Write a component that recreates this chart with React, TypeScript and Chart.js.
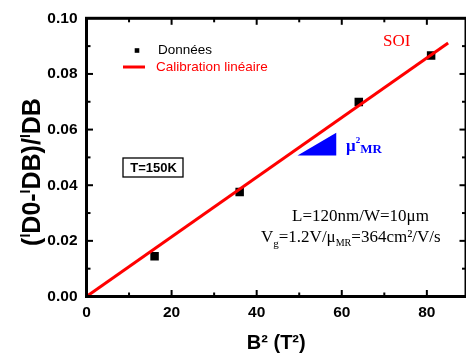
import React, { useEffect, useRef } from "react";
import { Chart, registerables } from "chart.js";

Chart.register(...registerables);

// ---- data ----
const B2 = [16, 36, 64, 81];
const RATIO = [0.0145, 0.0376, 0.0699, 0.0866];
const FIT_X = [0, 85];
const FIT_Y = [0, 0.0911];
const X_TICKS = [0, 20, 40, 60, 80];
const Y_TICKS = [0, 0.02, 0.04, 0.06, 0.08, 0.1];
const X_MIN = 0;
const X_MAX = 89.2;
const Y_MIN = 0;
const Y_MAX = 0.1;
// slope triangle (data coordinates)
const TRI_X = [49.6, 58.7, 58.7];
const TRI_Y = [0.0507, 0.0507, 0.0589];

const SANS = "'Liberation Sans', Arial, sans-serif";
const SERIF = "'Liberation Serif', 'Times New Roman', serif";

type Part = { t: string; font: string; dy?: number; color?: string };

function drawRich(ctx: CanvasRenderingContext2D, x: number, y: number, parts: Part[], align: "left" | "center" = "left") {
  ctx.textBaseline = "alphabetic";
  ctx.textAlign = "left";
  let total = 0;
  for (const p of parts) {
    ctx.font = p.font;
    total += ctx.measureText(p.t).width;
  }
  let cx = align === "center" ? x - total / 2 : x;
  for (const p of parts) {
    ctx.font = p.font;
    if (p.color) ctx.fillStyle = p.color;
    ctx.fillText(p.t, cx, y + (p.dy || 0));
    cx += ctx.measureText(p.t).width;
  }
}

const decorPlugin = {
  id: "decor",
  afterDraw(chart: any) {
    const { ctx, chartArea: a, scales } = chart;
    const xs = scales.x;
    const ys = scales.y;
    ctx.save();

    // triangle
    ctx.fillStyle = "#0000ff";
    ctx.beginPath();
    TRI_X.forEach((vx, i) => {
      const px = xs.getPixelForValue(vx);
      const py = ys.getPixelForValue(TRI_Y[i]);
      if (i === 0) ctx.moveTo(px, py);
      else ctx.lineTo(px, py);
    });
    ctx.closePath();
    ctx.fill();

    // frame
    ctx.strokeStyle = "#000";
    ctx.lineWidth = 3;
    ctx.strokeRect(a.left, a.top, a.right - a.left, a.bottom - a.top);

    // ticks (inside)
    ctx.lineWidth = 2;
    const line = (x1: number, y1: number, x2: number, y2: number) => {
      ctx.beginPath();
      ctx.moveTo(x1, y1);
      ctx.lineTo(x2, y2);
      ctx.stroke();
    };
    for (let v = 10; v < X_MAX; v += 10) {
      const px = xs.getPixelForValue(v);
      const len = X_TICKS.includes(v) ? 6.5 : 4;
      line(px, a.bottom, px, a.bottom - len);
      line(px, a.top, px, a.top + len);
    }
    for (let k = 1; k < 10; k++) {
      const v = k * 0.01;
      const py = ys.getPixelForValue(v);
      const len = k % 2 === 0 ? 6.5 : 4;
      line(a.left, py, a.left + len, py);
      line(a.right, py, a.right - len, py);
    }

    // y axis title
    ctx.save();
    ctx.translate(40, 172);
    ctx.rotate(-Math.PI / 2);
    ctx.fillStyle = "#000";
    const big = `bold 25px ${SANS}`;
    const small = `bold 14px ${SANS}`;
    drawRich(
      ctx,
      0,
      0,
      [
        { t: "(", font: big },
        { t: "I", font: small, dy: -10 },
        { t: "D0", font: big },
        { t: "-", font: big },
        { t: "I", font: small, dy: -10 },
        { t: "DB", font: big },
        { t: ")/", font: big },
        { t: "I", font: small, dy: -10 },
        { t: "DB", font: big },
      ],
      "center"
    );
    ctx.restore();

    // legend
    ctx.fillStyle = "#000";
    ctx.fillRect(134.7, 48.2, 4.6, 4.6);
    ctx.font = `13.5px ${SANS}`;
    ctx.textBaseline = "middle";
    ctx.textAlign = "left";
    ctx.fillText("Données", 158, 50);
    ctx.strokeStyle = "#ff0000";
    ctx.lineWidth = 3;
    line(123, 67, 145, 67);
    ctx.fillStyle = "#ff0000";
    ctx.fillText("Calibration linéaire", 156, 67);

    // T=150K box
    ctx.strokeStyle = "#000";
    ctx.lineWidth = 1.3;
    ctx.strokeRect(123, 158, 60, 19);
    ctx.fillStyle = "#000";
    ctx.font = `bold 13px ${SANS}`;
    ctx.textAlign = "center";
    ctx.fillText("T=150K", 153.5, 168);

    // SOI
    ctx.fillStyle = "#ff0000";
    ctx.font = `17px ${SERIF}`;
    ctx.textAlign = "left";
    ctx.textBaseline = "alphabetic";
    ctx.fillText("SOI", 383, 46);

    // mu^2 MR
    drawRich(ctx, 346, 151, [
      { t: "μ", font: `bold 17px ${SERIF}`, color: "#0000ff" },
      { t: "2", font: `bold 9px ${SERIF}`, dy: -8 },
      { t: "MR", font: `bold 13px ${SERIF}`, dy: 2 },
    ]);

    // parameters text
    ctx.fillStyle = "#000";
    drawRich(ctx, 292, 221, [{ t: "L=120nm/W=10μm", font: `17px ${SERIF}` }]);
    drawRich(ctx, 261, 242, [
      { t: "V", font: `17px ${SERIF}` },
      { t: "g", font: `11px ${SERIF}`, dy: 5 },
      { t: "=1.2V/μ", font: `17px ${SERIF}` },
      { t: "MR", font: `10px ${SERIF}`, dy: 4 },
      { t: "=364cm²/V/s", font: `17px ${SERIF}` },
    ]);

    ctx.restore();
  },
};

export default function App() {
  const ref = useRef<HTMLCanvasElement | null>(null);

  useEffect(() => {
    if (!ref.current) return;
    const chart = new Chart(ref.current, {
      type: "scatter",
      data: {
        datasets: [
          {
            label: "Calibration linéaire",
            data: FIT_X.map((x, i) => ({ x, y: FIT_Y[i] })),
            showLine: true,
            borderColor: "#ff0000",
            borderWidth: 3,
            pointRadius: 0,
            fill: false,
          },
          {
            label: "Données",
            data: B2.map((x, i) => ({ x, y: RATIO[i] })),
            pointStyle: "rect",
            pointRadius: 6,
            backgroundColor: "#000",
            borderColor: "#000",
            borderWidth: 0,
            showLine: false,
          },
        ],
      },
      options: {
        animation: false,
        responsive: false,
        layout: { padding: { top: 14.3, right: 4, left: 0, bottom: 0 } },
        plugins: { legend: { display: false }, tooltip: { enabled: false } },
        scales: {
          x: {
            type: "linear",
            min: X_MIN,
            max: X_MAX,
            afterFit: (s: any) => {
              s.height = 64.5;
            },
            afterBuildTicks: (s: any) => {
              s.ticks = X_TICKS.map((v) => ({ value: v }));
            },
            grid: { display: false, drawTicks: false },
            border: { display: false },
            ticks: {
              padding: 7,
              color: "#000",
              font: { family: SANS, weight: "bold", size: 15.5 },
              callback: (v: any) => String(v),
            },
            title: {
              display: true,
              text: "B² (T²)",
              color: "#000",
              font: { family: SANS, weight: "bold", size: 20 },
              padding: { top: 0, bottom: 6 },
            },
          },
          y: {
            type: "linear",
            min: Y_MIN,
            max: Y_MAX,
            afterFit: (s: any) => {
              s.width = 86.5;
            },
            afterBuildTicks: (s: any) => {
              s.ticks = Y_TICKS.map((v) => ({ value: v }));
            },
            grid: { display: false, drawTicks: false },
            border: { display: false },
            ticks: {
              padding: 9,
              color: "#000",
              font: { family: SANS, weight: "bold", size: 15.5 },
              callback: (v: any) => Number(v).toFixed(2),
            },
          },
        },
      },
      plugins: [decorPlugin],
    } as any);
    return () => chart.destroy();
  }, []);

  return (
    <div
      style={{
        position: "absolute",
        left: 0,
        top: 0,
        width: 466,
        height: 361,
        overflow: "hidden",
        background: "#fff",
      }}
    >
      <canvas ref={ref} width={472} height={361} style={{ width: 472, height: 361, display: "block" }} />
    </div>
  );
}
